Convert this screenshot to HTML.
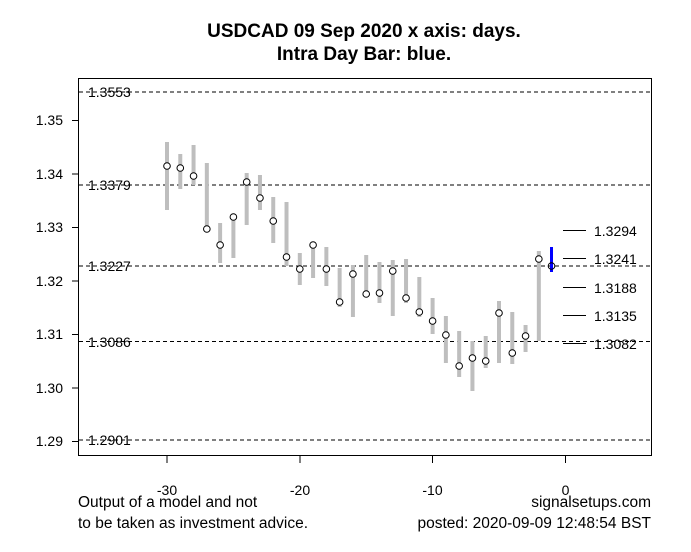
<!DOCTYPE html>
<html><head><meta charset="utf-8"><style>
html,body{margin:0;padding:0;background:#fff;}
svg{display:block;font-family:"Liberation Sans",Arial,sans-serif;}
</style></head><body>
<svg width="691" height="552" viewBox="0 0 691 552" xmlns="http://www.w3.org/2000/svg">
<rect width="691" height="552" fill="#fff"/>
<text x="364" y="37" font-size="19" font-weight="bold" text-anchor="middle">USDCAD 09 Sep 2020 x axis: days.</text>
<text x="364" y="60" font-size="19" font-weight="bold" text-anchor="middle">Intra Day Bar: blue.</text>
<g stroke="#000" stroke-width="1" stroke-dasharray="4,3">
<line x1="79" x2="651" y1="92" y2="92"/>
<line x1="79" x2="651" y1="185" y2="185"/>
<line x1="79" x2="651" y1="266" y2="266"/>
<line x1="79" x2="651" y1="341.5" y2="341.5"/>
<line x1="79" x2="651" y1="440" y2="440"/>
</g>
<g font-size="14" fill="#000">
<text x="88" y="97">1.3553</text>
<text x="88" y="190">1.3379</text>
<text x="88" y="271">1.3227</text>
<text x="88" y="347">1.3086</text>
<text x="88" y="445">1.2901</text>
</g>
<g stroke="#bebebe" stroke-width="4" id="bars"></g>
<g fill="#fff" stroke="#000" stroke-width="1" id="pts"></g>
<line x1="551.5" x2="551.5" y1="247" y2="272" stroke="#0000ff" stroke-width="3"/>
<circle cx="551.5" cy="266" r="3.3" fill="none" stroke="#000"/>
<g stroke="#000" stroke-width="1">
<line x1="563" x2="586" y1="230.5" y2="230.5"/>
<line x1="563" x2="586" y1="258.5" y2="258.5"/>
<line x1="563" x2="586" y1="287.5" y2="287.5"/>
<line x1="563" x2="586" y1="315.5" y2="315.5"/>
<line x1="563" x2="586" y1="343.5" y2="343.5"/>
</g>
<g font-size="14">
<text x="594" y="236">1.3294</text>
<text x="594" y="264">1.3241</text>
<text x="594" y="293">1.3188</text>
<text x="594" y="321">1.3135</text>
<text x="594" y="349">1.3082</text>
</g>
<rect x="78.5" y="78.5" width="573" height="377" fill="none" stroke="#000" stroke-width="1"/>
<g stroke="#000">
<line x1="72" x2="78" y1="120.5" y2="120.5"/>
<line x1="72" x2="78" y1="174" y2="174"/>
<line x1="72" x2="78" y1="227.5" y2="227.5"/>
<line x1="72" x2="78" y1="281" y2="281"/>
<line x1="72" x2="78" y1="334.5" y2="334.5"/>
<line x1="72" x2="78" y1="388" y2="388"/>
<line x1="72" x2="78" y1="441.5" y2="441.5"/>
<line x1="167" x2="167" y1="456" y2="463"/>
<line x1="300" x2="300" y1="456" y2="463"/>
<line x1="432.5" x2="432.5" y1="456" y2="463"/>
<line x1="565.5" x2="565.5" y1="456" y2="463"/>
</g>
<g font-size="14" text-anchor="end">
<text x="63" y="125">1.35</text>
<text x="63" y="179">1.34</text>
<text x="63" y="232">1.33</text>
<text x="63" y="286">1.32</text>
<text x="63" y="339">1.31</text>
<text x="63" y="393">1.30</text>
<text x="63" y="446">1.29</text>
</g>
<g font-size="14" text-anchor="middle">
<text x="167" y="495">-30</text>
<text x="300" y="495">-20</text>
<text x="432.5" y="495">-10</text>
<text x="565.5" y="495">0</text>
</g>
<g font-size="15.5">
<text x="78" y="507">Output of a model and not</text>
<text x="78" y="528">to be taken as investment advice.</text>
<text x="651" y="507" text-anchor="end">signalsetups.com</text>
<text x="651" y="528" text-anchor="end">posted: 2020-09-09 12:48:54 BST</text>
</g>
<script>
var d=[[142,210,166],[154,189,168],[145,185,176],[163,230,229],[223,263,245],[214,258,217],[173,225,182],[175,210,198],[197,243,221],[202,266,257],[253,285,269],[242,278,245],[247,286,269],[268,307,302],[265,317,274],[255,297,294],[262,303,293],[260,316,271],[259,303,298],[277,317,312],[298,334,321],[316,363,335],[331,377,366],[341,391,358],[336,368,361],[301,363,313],[312,364,353],[325,352,336],[251,341,259]];
var b=document.getElementById('bars'),p=document.getElementById('pts'),ns="http://www.w3.org/2000/svg";
d.forEach(function(v,i){var x=167+13.28*i;
var l=document.createElementNS(ns,'line');l.setAttribute('x1',x);l.setAttribute('x2',x);l.setAttribute('y1',v[0]);l.setAttribute('y2',v[1]);b.appendChild(l);
var c=document.createElementNS(ns,'circle');c.setAttribute('cx',x);c.setAttribute('cy',v[2]);c.setAttribute('r',3.3);c.setAttribute('fill','#fff');p.appendChild(c);});
</script>
</svg>
</body></html>
